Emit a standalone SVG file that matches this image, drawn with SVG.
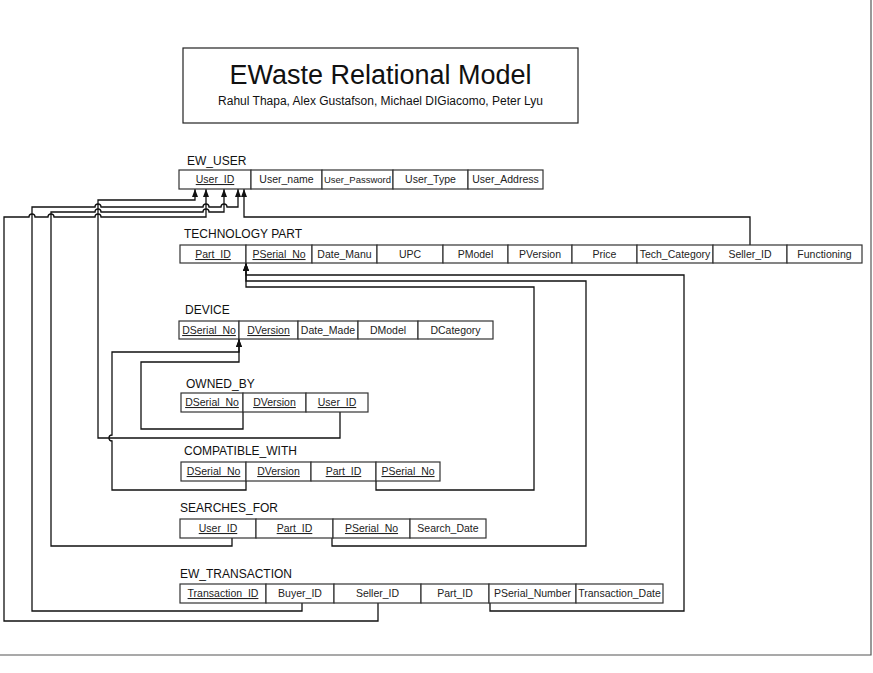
<svg xmlns="http://www.w3.org/2000/svg" width="873" height="673" viewBox="0 0 873 673">
<style>
.bg{fill:#fff}
.frame{fill:none;stroke:#555;stroke-width:1.2}
.cell{fill:#fff;stroke:#333;stroke-width:1.2}
.lbl{font-family:"Liberation Sans",Arial,sans-serif;font-size:12px;fill:#111}
.t{font-family:"Liberation Sans",Arial,sans-serif;font-size:10.5px;fill:#222;text-anchor:middle}
.s{font-size:9.5px}
.k{text-decoration:underline}
.c{fill:none;stroke:#111;stroke-width:1.3}
.title{font-family:"Liberation Sans",Arial,sans-serif;font-size:27px;fill:#111;text-anchor:middle}
.sub{font-family:"Liberation Sans",Arial,sans-serif;font-size:12px;fill:#111;text-anchor:middle}
</style>
<defs>
<marker id="arr" viewBox="0 0 8 6" refX="8" refY="3" markerWidth="8" markerHeight="6" orient="auto" markerUnits="userSpaceOnUse">
<path d="M0,0 L8,3 L0,6 z" fill="#111"/>
</marker>
</defs>
<rect class="bg" x="0" y="0" width="873" height="673"/>
<path class="frame" d="M871,0 V655 H0"/>

<g id="title">
<rect x="183" y="48" width="395" height="75" fill="#fff" stroke="#222" stroke-width="1.2"/>
<text class="title" x="380.5" y="84">EWaste Relational Model</text>
<text class="sub" x="380.5" y="105">Rahul Thapa, Alex Gustafson, Michael DIGiacomo, Peter Lyu</text>
</g>

<g id="connectors">
<path class="c" d="M340,412 V438 H98 V200 H195 V189" marker-end="url(#arr)"/>
<path class="c" d="M302,603 V611 H32 V207 H95 A3,3 0 0 1 101,207 H203 A3,3 0 0 1 209,207 H221 A3,3 0 0 1 227,207 H238 V189" marker-end="url(#arr)"/>
<path class="c" d="M232,538 V546 H51 V212 H95 A3,3 0 0 1 101,212 H203 A3,3 0 0 1 209,212 H224 V189" marker-end="url(#arr)"/>
<path class="c" d="M378,603 V621 H4 V217 H29 A3,3 0 0 1 35,217 H48 A3,3 0 0 1 54,217 H95 A3,3 0 0 1 101,217 H206 V189" marker-end="url(#arr)"/>
<path class="c" d="M750,245 V217 H244 V189" marker-end="url(#arr)"/>
<path class="c" d="M490,603 V611 H684 V275 H246 V263" marker-end="url(#arr)"/>
<path class="c" d="M332,538 V546 H586 V281 H246 V263" marker-end="url(#arr)"/>
<path class="c" d="M376,481 V490 H534 V287 H246 V263" marker-end="url(#arr)"/>
<path class="c" d="M243,412 V429 H141 V362 H239 V339" marker-end="url(#arr)"/>
<path class="c" d="M246,481 V490 H112 V441 A3,3 0 0 1 112,435 V352 H239 V339" marker-end="url(#arr)"/>
</g>

<g id="ew_user">
<text class="lbl" x="187" y="165">EW_USER</text>
<rect class="cell" x="179" y="170" width="72" height="19"/>
<rect class="cell" x="251" y="170" width="71" height="19"/>
<rect class="cell" x="322" y="170" width="71" height="19"/>
<rect class="cell" x="393" y="170" width="75" height="19"/>
<rect class="cell" x="468" y="170" width="75" height="19"/>
<text class="t k" x="215" y="183">User_ID</text>
<text class="t" x="286.5" y="183">User_name</text>
<text class="t s" x="357.5" y="183">User_Password</text>
<text class="t" x="430.5" y="183">User_Type</text>
<text class="t" x="505.5" y="183">User_Address</text>
</g>

<g id="technology_part">
<text class="lbl" x="184" y="238">TECHNOLOGY PART</text>
<rect class="cell" x="180" y="245" width="66" height="18"/>
<rect class="cell" x="246" y="245" width="66" height="18"/>
<rect class="cell" x="312" y="245" width="65" height="18"/>
<rect class="cell" x="377" y="245" width="66" height="18"/>
<rect class="cell" x="443" y="245" width="65" height="18"/>
<rect class="cell" x="508" y="245" width="64" height="18"/>
<rect class="cell" x="572" y="245" width="65" height="18"/>
<rect class="cell" x="637" y="245" width="76" height="18"/>
<rect class="cell" x="713" y="245" width="74" height="18"/>
<rect class="cell" x="787" y="245" width="75" height="18"/>
<text class="t k" x="213" y="258">Part_ID</text>
<text class="t k" x="279" y="258">PSerial_No</text>
<text class="t" x="344.5" y="258">Date_Manu</text>
<text class="t" x="410" y="258">UPC</text>
<text class="t" x="475.5" y="258">PModel</text>
<text class="t" x="540" y="258">PVersion</text>
<text class="t" x="604.5" y="258">Price</text>
<text class="t" x="675" y="258">Tech_Category</text>
<text class="t" x="750" y="258">Seller_ID</text>
<text class="t" x="824.5" y="258">Functioning</text>
</g>

<g id="device">
<text class="lbl" x="185" y="314">DEVICE</text>
<rect class="cell" x="179" y="321" width="60" height="18"/>
<rect class="cell" x="239" y="321" width="59" height="18"/>
<rect class="cell" x="298" y="321" width="60" height="18"/>
<rect class="cell" x="358" y="321" width="60" height="18"/>
<rect class="cell" x="418" y="321" width="75" height="18"/>
<text class="t k" x="209" y="334">DSerial_No</text>
<text class="t k" x="268.5" y="334">DVersion</text>
<text class="t" x="328" y="334">Date_Made</text>
<text class="t" x="388" y="334">DModel</text>
<text class="t" x="455.5" y="334">DCategory</text>
</g>

<g id="owned_by">
<text class="lbl" x="186" y="388">OWNED_BY</text>
<rect class="cell" x="181" y="393" width="62" height="19"/>
<rect class="cell" x="243" y="393" width="63" height="19"/>
<rect class="cell" x="306" y="393" width="62" height="19"/>
<text class="t k" x="212" y="406">DSerial_No</text>
<text class="t k" x="274.5" y="406">DVersion</text>
<text class="t k" x="337" y="406">User_ID</text>
</g>

<g id="compatible_with">
<text class="lbl" x="184" y="455">COMPATIBLE_WITH</text>
<rect class="cell" x="181" y="462" width="65" height="19"/>
<rect class="cell" x="246" y="462" width="65" height="19"/>
<rect class="cell" x="311" y="462" width="65" height="19"/>
<rect class="cell" x="376" y="462" width="64" height="19"/>
<text class="t k" x="213.5" y="475">DSerial_No</text>
<text class="t k" x="278.5" y="475">DVersion</text>
<text class="t k" x="343.5" y="475">Part_ID</text>
<text class="t k" x="408" y="475">PSerial_No</text>
</g>

<g id="searches_for">
<text class="lbl" x="180" y="512">SEARCHES_FOR</text>
<rect class="cell" x="180" y="519" width="76" height="19"/>
<rect class="cell" x="256" y="519" width="77" height="19"/>
<rect class="cell" x="333" y="519" width="77" height="19"/>
<rect class="cell" x="410" y="519" width="76" height="19"/>
<text class="t k" x="218" y="532">User_ID</text>
<text class="t k" x="294.5" y="532">Part_ID</text>
<text class="t k" x="371.5" y="532">PSerial_No</text>
<text class="t" x="448" y="532">Search_Date</text>
</g>

<g id="ew_transaction">
<text class="lbl" x="180" y="578">EW_TRANSACTION</text>
<rect class="cell" x="180" y="584" width="86" height="19"/>
<rect class="cell" x="266" y="584" width="68" height="19"/>
<rect class="cell" x="334" y="584" width="87" height="19"/>
<rect class="cell" x="421" y="584" width="68" height="19"/>
<rect class="cell" x="489" y="584" width="87" height="19"/>
<rect class="cell" x="576" y="584" width="87" height="19"/>
<text class="t k" x="223" y="597">Transaction_ID</text>
<text class="t" x="300" y="597">Buyer_ID</text>
<text class="t" x="377.5" y="597">Seller_ID</text>
<text class="t" x="455" y="597">Part_ID</text>
<text class="t" x="532.5" y="597">PSerial_Number</text>
<text class="t" x="619.5" y="597">Transaction_Date</text>
</g>
</svg>
